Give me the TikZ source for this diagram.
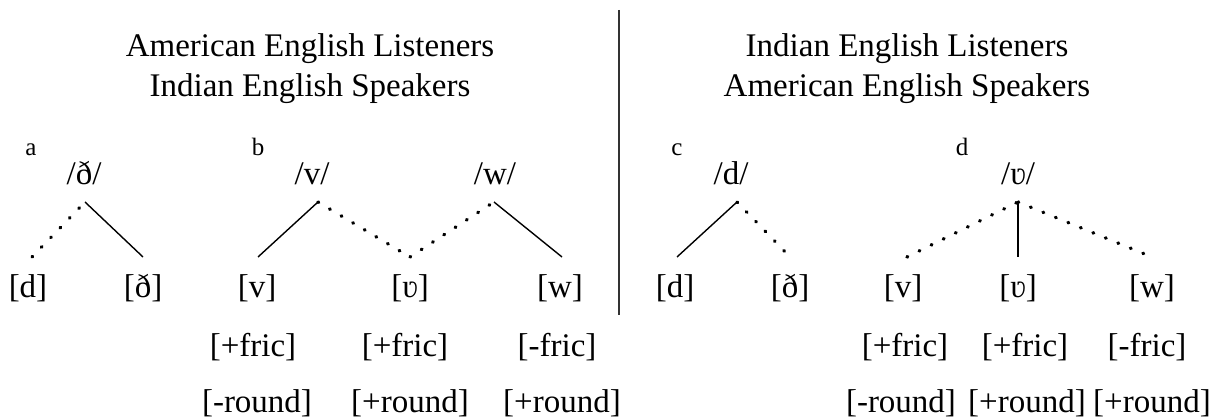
\documentclass[tikz,border=0pt]{standalone}
\usepackage{fontspec}
\setmainfont{Liberation Serif}
\begin{document}
\begin{tikzpicture}[x=1pt,y=-1pt,
  lab/.style={anchor=base,inner sep=0pt,font=\fontsize{33}{40}\selectfont},
  pan/.style={anchor=base,inner sep=0pt,font=\fontsize{25}{30}\selectfont},
  solidln/.style={line width=1.4pt,black},
  dotln/.style={line width=3.4pt,dash pattern=on 0.8pt off 12.7pt,line cap=round},
  divider/.style={line width=1.2pt,black!80}]
\useasboundingbox (0,0) rectangle (1226,419);
% headers
\node[lab] (h1) at (310,57) {American English Listeners};
\node[lab] (h2) at (310,97) {Indian English Speakers};
\node[lab] (h3) at (907,57) {Indian English Listeners};
\node[lab] (h4) at (907,97) {American English Speakers};
% divider
\coordinate (vt) at (619,10);
\coordinate (vb) at (619,315);
\draw[divider] (vt) -- (vb);
% panel letters
\node[pan] (pa) at (31,156) {a};
\node[pan] (pb) at (258,156) {b};
\node[pan] (pc) at (677,156) {c};
\node[pan] (pd) at (962,156) {d};
% top labels
\node[lab] (ta) at (84,185) {/ð/};
\node[lab] (tbv) at (312,185) {/v/};
\node[lab] (tbw) at (495,185) {/w/};
\node[lab] (tc) at (731,185) {/d/};
\node[lab] (td) at (1018,185) {/ʋ/};
% bottom labels
\node[lab] (ad) at (28,298) {[d]};
\node[lab] (adh) at (143,298) {[ð]};
\node[lab] (bv) at (257,298) {[v]};
\node[lab] (bu) at (410,298) {[ʋ]};
\node[lab] (bw) at (560,298) {[w]};
\node[lab] (cd) at (675,298) {[d]};
\node[lab] (cdh) at (790,298) {[ð]};
\node[lab] (dv) at (903,298) {[v]};
\node[lab] (du) at (1018,298) {[ʋ]};
\node[lab] (dw) at (1152,298) {[w]};
% features
\node[lab] (f1) at (253,357) {[+fric]};
\node[lab] (f2) at (405,357) {[+fric]};
\node[lab] (f3) at (557,357) {[-fric]};
\node[lab] (f4) at (905,357) {[+fric]};
\node[lab] (f5) at (1025,357) {[+fric]};
\node[lab] (f6) at (1147,357) {[-fric]};
\node[lab] (r1) at (257,412) {[-round]};
\node[lab] (r2) at (410,412) {[+round]};
\node[lab] (r3) at (562,412) {[+round]};
\node[lab] (r4) at (901,412) {[-round]};
\node[lab] (r5) at (1027,412) {[+round]};
\node[lab] (r6) at (1152,412) {[+round]};
% junction and end coordinates
\coordinate (aJ) at (85,202);
\coordinate (aL) at (32,257);
\coordinate (aR) at (143,257);
\coordinate (bJ1) at (318,202);
\coordinate (bL) at (258,257);
\coordinate (bM) at (410,257);
\coordinate (bJ2) at (494,202);
\coordinate (bR) at (562,257);
\coordinate (cJ) at (737,202);
\coordinate (cL) at (677,257);
\coordinate (cR) at (790,257);
\coordinate (dJ) at (1018,202);
\coordinate (dL) at (907,257);
\coordinate (dM) at (1018,257);
\coordinate (dR) at (1152,257);
% connectors
\draw[dotln] (aL) -- (aJ);
\draw[solidln] (aJ) -- (aR);
\draw[solidln] (bL) -- (bJ1);
\draw[dotln] (bJ1) -- (bM);
\draw[dotln] (bM) -- (bJ2);
\draw[solidln] (bJ2) -- (bR);
\draw[solidln] (cL) -- (cJ);
\draw[dotln] (cJ) -- (cR);
\draw[dotln] (dL) -- (dJ);
\draw[solidln] (dJ) -- (dM);
\draw[dotln] (dJ) -- (dR);
\end{tikzpicture}
\end{document}
